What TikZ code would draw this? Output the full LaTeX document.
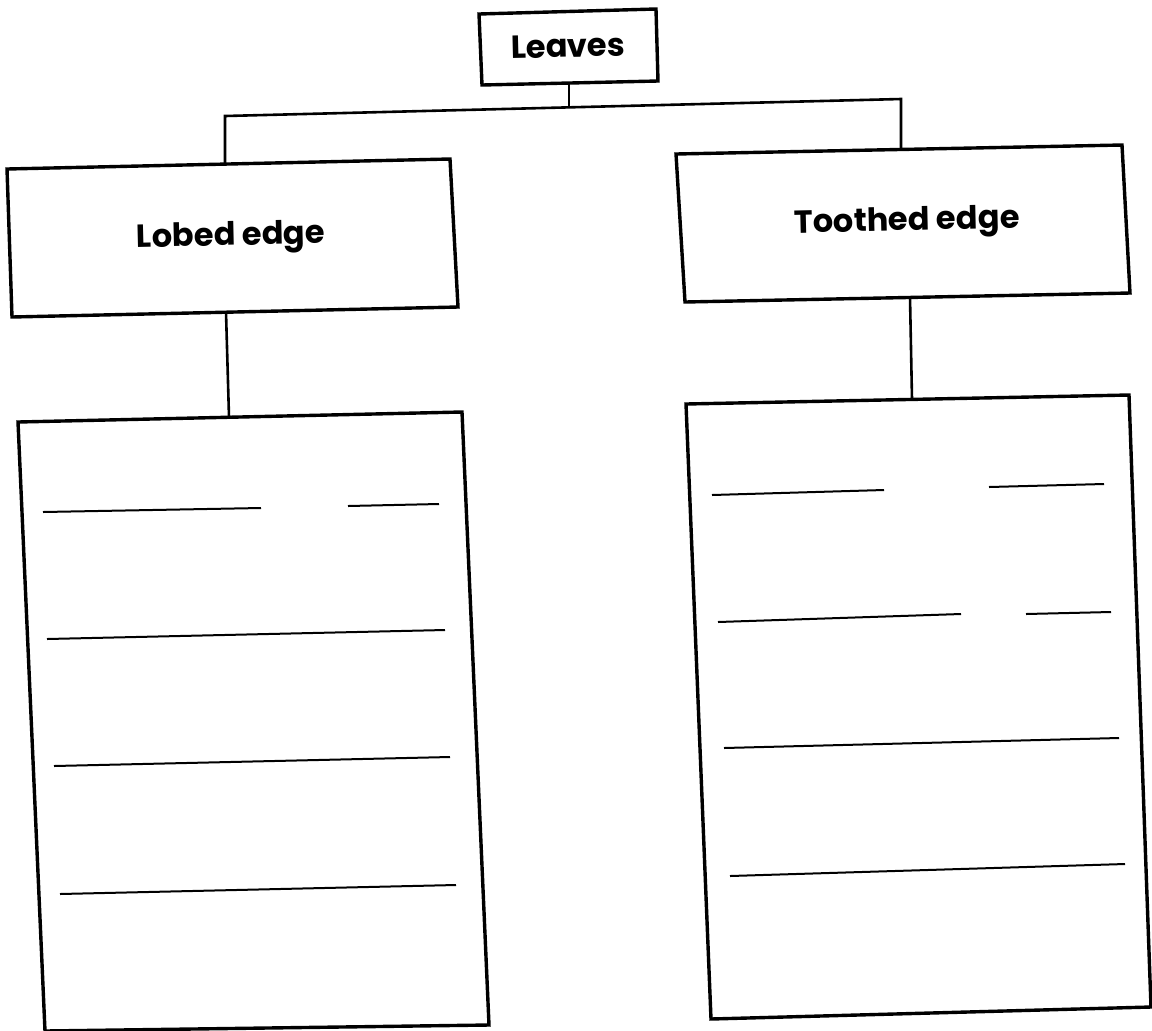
\documentclass[tikz,border=0pt]{standalone}
\usepackage{fontspec}
\setmainfont{Poppins}
\begin{document}
\begin{tikzpicture}[x=0.5pt,y=-0.5pt,
  box/.style={line width=1.7pt, line join=miter},
  conn/.style={line width=1.3pt},
  rulel/.style={line width=1pt},
  lbl/.style={font=\bfseries\fontsize{16}{19}\selectfont, rotate=1.3, inner sep=0pt}]
\path[use as bounding box, fill=white] (0,0) rectangle (1152,1030);
% Leaves box
\coordinate (L1) at (479,14);
\coordinate (L2) at (656,9);
\coordinate (L3) at (658,81);
\coordinate (L4) at (482,85);
\draw[box] (L1)--(L2)--(L3)--(L4)--cycle;
\node[lbl] (leaves) at (568,46) {Leaves};
% Lobed edge box
\coordinate (A1) at (7,169);
\coordinate (A2) at (450,159);
\coordinate (A3) at (458,307);
\coordinate (A4) at (12,317);
\draw[box] (A1)--(A2)--(A3)--(A4)--cycle;
\node[lbl] (lobed) at (231,238) {Lobed edge};
% Toothed edge box
\coordinate (B1) at (676,154);
\coordinate (B2) at (1122,145);
\coordinate (B3) at (1130,293);
\coordinate (B4) at (685,302);
\draw[box] (B1)--(B2)--(B3)--(B4)--cycle;
\node[lbl] (toothed) at (907,223) {Toothed edge};
% Big left box
\coordinate (C1) at (18,422);
\coordinate (C2) at (462,412);
\coordinate (C3) at (489,1025);
\coordinate (C4) at (45,1031);
\draw[box] (C1)--(C2)--(C3)--(C4)--cycle;
% Big right box
\coordinate (D1) at (686,404);
\coordinate (D2) at (1129,395);
\coordinate (D3) at (1151,1007);
\coordinate (D4) at (711,1019);
\draw[box] (D1)--(D2)--(D3)--(D4)--cycle;
% connector points
\coordinate (leavesS) at (569,83);
\coordinate (barM) at (569,107);
\coordinate (barL) at (225,116);
\coordinate (barR) at (901,99);
\coordinate (lobedN) at (225,164);
\coordinate (toothedN) at (901,149);
\coordinate (lobedS) at (226,312);
\coordinate (leftN) at (229,417);
\coordinate (toothedS) at (910,297);
\coordinate (rightN) at (912,399);
\draw[conn] (leavesS) -- (barM);
\draw[conn] (lobedN) -- (barL) -- (barR) -- (toothedN);
\draw[conn] (lobedS) -- (leftN);
\draw[conn] (toothedS) -- (rightN);
% writing lines, left
\draw[rulel] (43,512) -- (261,508);
\draw[rulel] (348,506) -- (439,504);
\draw[rulel] (47,639) -- (445,630);
\draw[rulel] (54,766) -- (450,757);
\draw[rulel] (60,894) -- (456,885);
% writing lines, right
\draw[rulel] (712,495) -- (884,490);
\draw[rulel] (989,487) -- (1104,484);
\draw[rulel] (718,622) -- (961,614);
\draw[rulel] (1026,614) -- (1111,612);
\draw[rulel] (724,748) -- (1119,738);
\draw[rulel] (730,876) -- (1125,864);
\end{tikzpicture}
\end{document}
